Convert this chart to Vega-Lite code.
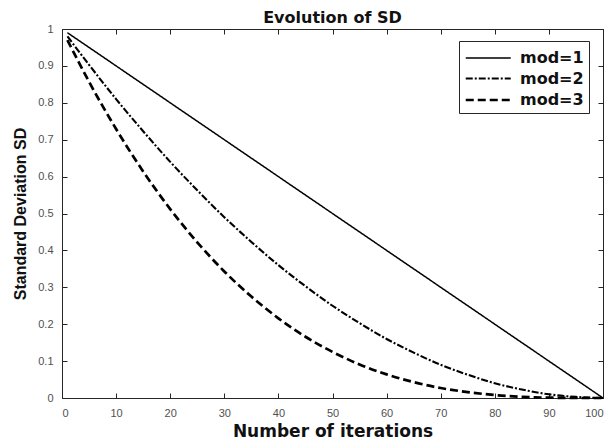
{
  "$schema": "https://vega.github.io/schema/vega-lite/v6.json",
  "width": 541,
  "height": 369,
  "autosize": "none",
  "padding": {"left": 62, "top": 29, "right": 11, "bottom": 41},
  "background": "white",
  "title": {
    "text": "Evolution of SD",
    "font": "DejaVu Sans",
    "fontSize": 16,
    "fontWeight": "bold",
    "color": "#111111",
    "offset": -3
  },
  "config": {
    "view": {"stroke": "#262626", "strokeWidth": 1},
    "axis": {
      "grid": false,
      "domainColor": "#262626",
      "tickColor": "#262626",
      "tickSize": -5,
      "labelFont": "Liberation Sans",
      "labelFontSize": 11,
      "labelColor": "#505050",
      "titleFont": "DejaVu Sans",
      "titleFontWeight": "bold",
      "titleColor": "#111111"
    },
    "legend": {
      "orient": "none",
      "legendX": 397,
      "legendY": 12,
      "strokeColor": "#262626",
      "fillColor": "white",
      "padding": 5,
      "cornerRadius": 0,
      "symbolType": "M-1,0H3",
      "symbolSize": 506,
      "symbolStrokeWidth": 2.4,
      "symbolStrokeColor": "black",
      "symbolFillColor": "transparent",
      "labelFont": "DejaVu Sans",
      "labelFontSize": 16,
      "labelFontWeight": "bold",
      "labelColor": "#111111",
      "labelOffset": 30,
      "rowPadding": -2.5
    }
  },
  "data": {
    "values": [
      {"iteration": 1, "sd": 0.99, "series": "mod=1"},
      {"iteration": 50, "sd": 0.5, "series": "mod=1"},
      {"iteration": 100, "sd": 0.0, "series": "mod=1"},
      {"iteration": 1, "sd": 0.980, "series": "mod=2"},
      {"iteration": 5, "sd": 0.903, "series": "mod=2"},
      {"iteration": 10, "sd": 0.810, "series": "mod=2"},
      {"iteration": 15, "sd": 0.723, "series": "mod=2"},
      {"iteration": 20, "sd": 0.640, "series": "mod=2"},
      {"iteration": 25, "sd": 0.563, "series": "mod=2"},
      {"iteration": 30, "sd": 0.490, "series": "mod=2"},
      {"iteration": 35, "sd": 0.423, "series": "mod=2"},
      {"iteration": 40, "sd": 0.360, "series": "mod=2"},
      {"iteration": 45, "sd": 0.303, "series": "mod=2"},
      {"iteration": 50, "sd": 0.250, "series": "mod=2"},
      {"iteration": 55, "sd": 0.203, "series": "mod=2"},
      {"iteration": 60, "sd": 0.160, "series": "mod=2"},
      {"iteration": 65, "sd": 0.123, "series": "mod=2"},
      {"iteration": 70, "sd": 0.090, "series": "mod=2"},
      {"iteration": 75, "sd": 0.063, "series": "mod=2"},
      {"iteration": 80, "sd": 0.040, "series": "mod=2"},
      {"iteration": 85, "sd": 0.023, "series": "mod=2"},
      {"iteration": 90, "sd": 0.010, "series": "mod=2"},
      {"iteration": 95, "sd": 0.003, "series": "mod=2"},
      {"iteration": 100, "sd": 0.0, "series": "mod=2"},
      {"iteration": 1, "sd": 0.970, "series": "mod=3"},
      {"iteration": 5, "sd": 0.857, "series": "mod=3"},
      {"iteration": 10, "sd": 0.729, "series": "mod=3"},
      {"iteration": 15, "sd": 0.614, "series": "mod=3"},
      {"iteration": 20, "sd": 0.512, "series": "mod=3"},
      {"iteration": 25, "sd": 0.422, "series": "mod=3"},
      {"iteration": 30, "sd": 0.343, "series": "mod=3"},
      {"iteration": 35, "sd": 0.275, "series": "mod=3"},
      {"iteration": 40, "sd": 0.216, "series": "mod=3"},
      {"iteration": 45, "sd": 0.166, "series": "mod=3"},
      {"iteration": 50, "sd": 0.125, "series": "mod=3"},
      {"iteration": 55, "sd": 0.091, "series": "mod=3"},
      {"iteration": 60, "sd": 0.064, "series": "mod=3"},
      {"iteration": 65, "sd": 0.043, "series": "mod=3"},
      {"iteration": 70, "sd": 0.027, "series": "mod=3"},
      {"iteration": 75, "sd": 0.016, "series": "mod=3"},
      {"iteration": 80, "sd": 0.008, "series": "mod=3"},
      {"iteration": 85, "sd": 0.003, "series": "mod=3"},
      {"iteration": 90, "sd": 0.001, "series": "mod=3"},
      {"iteration": 95, "sd": 0.0001, "series": "mod=3"},
      {"iteration": 100, "sd": 0.0, "series": "mod=3"}
    ]
  },
  "layer": [
    {
      "mark": {"type": "line", "interpolate": "monotone", "color": "black"},
      "encoding": {
        "x": {
          "field": "iteration",
          "type": "quantitative",
          "scale": {"domain": [0, 100], "nice": false},
          "axis": {
            "orient": "bottom",
            "title": "Number of iterations",
            "titleFontSize": 17,
            "titlePadding": 5,
            "values": [0, 10, 20, 30, 40, 50, 60, 70, 80, 90, 100],
            "labelPadding": 14
          }
        },
        "y": {
          "field": "sd",
          "type": "quantitative",
          "scale": {"domain": [0, 1], "nice": false},
          "axis": {
            "orient": "left",
            "title": "Standard Deviation SD",
            "titleFont": "Liberation Sans",
            "titleFontSize": 16,
            "titlePadding": 9,
            "format": "~g",
            "values": [0, 0.1, 0.2, 0.3, 0.4, 0.5, 0.6, 0.7, 0.8, 0.9, 1],
            "labelPadding": 14
          }
        },
        "strokeDash": {
          "field": "series",
          "type": "nominal",
          "scale": {
            "domain": ["mod=1", "mod=2", "mod=3"],
            "range": [[1, 0], [7, 2, 2, 2], [8, 4]]
          },
          "legend": {"title": null}
        },
        "strokeWidth": {
          "field": "series",
          "type": "nominal",
          "scale": {"domain": ["mod=1", "mod=2", "mod=3"], "range": [1.5, 2.7, 2.7]},
          "legend": null
        }
      }
    },
    {
      "mark": {"type": "line", "opacity": 0},
      "encoding": {
        "x": {
          "field": "iteration",
          "type": "quantitative",
          "scale": {"domain": [0, 100], "nice": false},
          "axis": {"orient": "top", "title": null, "labels": false, "values": [0, 10, 20, 30, 40, 50, 60, 70, 80, 90, 100]}
        },
        "y": {
          "field": "sd",
          "type": "quantitative",
          "scale": {"domain": [0, 1], "nice": false},
          "axis": {"orient": "right", "title": null, "labels": false, "values": [0, 0.1, 0.2, 0.3, 0.4, 0.5, 0.6, 0.7, 0.8, 0.9, 1]}
        },
        "detail": {"field": "series", "type": "nominal"}
      }
    }
  ],
  "resolve": {"axis": {"x": "independent", "y": "independent"}}
}
